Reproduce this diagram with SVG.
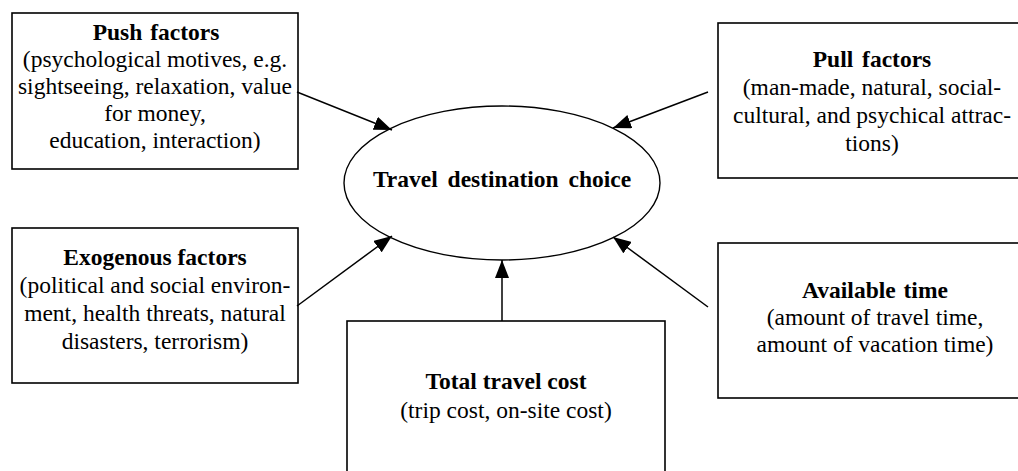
<svg xmlns="http://www.w3.org/2000/svg" width="1018" height="471" viewBox="0 0 1018 471">
<defs>
<style>
.box{fill:#fff;stroke:#000;stroke-width:1.6}
.t{font-family:"Liberation Serif","Times New Roman",serif;font-size:23.5px;fill:#000;text-anchor:middle}
.b{font-weight:bold}
.c{stroke:#000;stroke-width:1.5;fill:none}
</style>
<marker id="ah" viewBox="0 0 18 14" refX="18" refY="7" markerWidth="18" markerHeight="14" markerUnits="userSpaceOnUse" orient="auto">
<path d="M0,0 L18,7 L0,14 z" fill="#000"/>
</marker>
</defs>
<rect width="1018" height="471" fill="#fff"/>
<g id="push">
<rect class="box" x="12" y="13" width="286" height="156"/>
<text class="t b" x="156" y="40" word-spacing="2">Push factors</text>
<text class="t" x="155" y="67">(psychological motives, e.g.</text>
<text class="t" x="155" y="94">sightseeing, relaxation, value</text>
<text class="t" x="155" y="121">for money,</text>
<text class="t" x="155" y="148">education, interaction)</text>
</g>
<g id="pull">
<rect class="box" x="718" y="23" width="320" height="155"/>
<text class="t b" x="872" y="67" word-spacing="3">Pull factors</text>
<text class="t" x="872" y="95">(man-made, natural, social-</text>
<text class="t" x="872" y="123">cultural, and psychical attrac-</text>
<text class="t" x="872" y="151">tions)</text>
</g>
<g id="exogenous">
<rect class="box" x="12" y="228" width="286" height="155"/>
<text class="t b" x="155" y="265">Exogenous factors</text>
<text class="t" x="155" y="293">(political and social environ-</text>
<text class="t" x="155" y="321">ment, health threats, natural</text>
<text class="t" x="155" y="349">disasters, terrorism)</text>
</g>
<g id="available">
<rect class="box" x="718" y="243" width="320" height="155"/>
<text class="t b" x="875" y="298" word-spacing="2">Available time</text>
<text class="t" x="875" y="325">(amount of travel time,</text>
<text class="t" x="875" y="352">amount of vacation time)</text>
</g>
<g id="total">
<rect class="box" x="347" y="321" width="318" height="170"/>
<text class="t b" x="506" y="389">Total travel cost</text>
<text class="t" x="506" y="418">(trip cost, on-site cost)</text>
</g>
<g id="choice">
<ellipse cx="502" cy="183" rx="158" ry="77" fill="#fff" stroke="#000" stroke-width="1.4"/>
<text class="t b" x="502" y="187" word-spacing="4">Travel destination choice</text>
</g>
<g id="connectors">
<line class="c" x1="297" y1="92" x2="392" y2="130" marker-end="url(#ah)"/>
<line class="c" x1="708" y1="92" x2="613" y2="128" marker-end="url(#ah)"/>
<line class="c" x1="297" y1="306" x2="392" y2="236" marker-end="url(#ah)"/>
<line class="c" x1="708" y1="307" x2="613" y2="237" marker-end="url(#ah)"/>
<line class="c" x1="502" y1="321" x2="502" y2="260" marker-end="url(#ah)"/>
</g>
</svg>
